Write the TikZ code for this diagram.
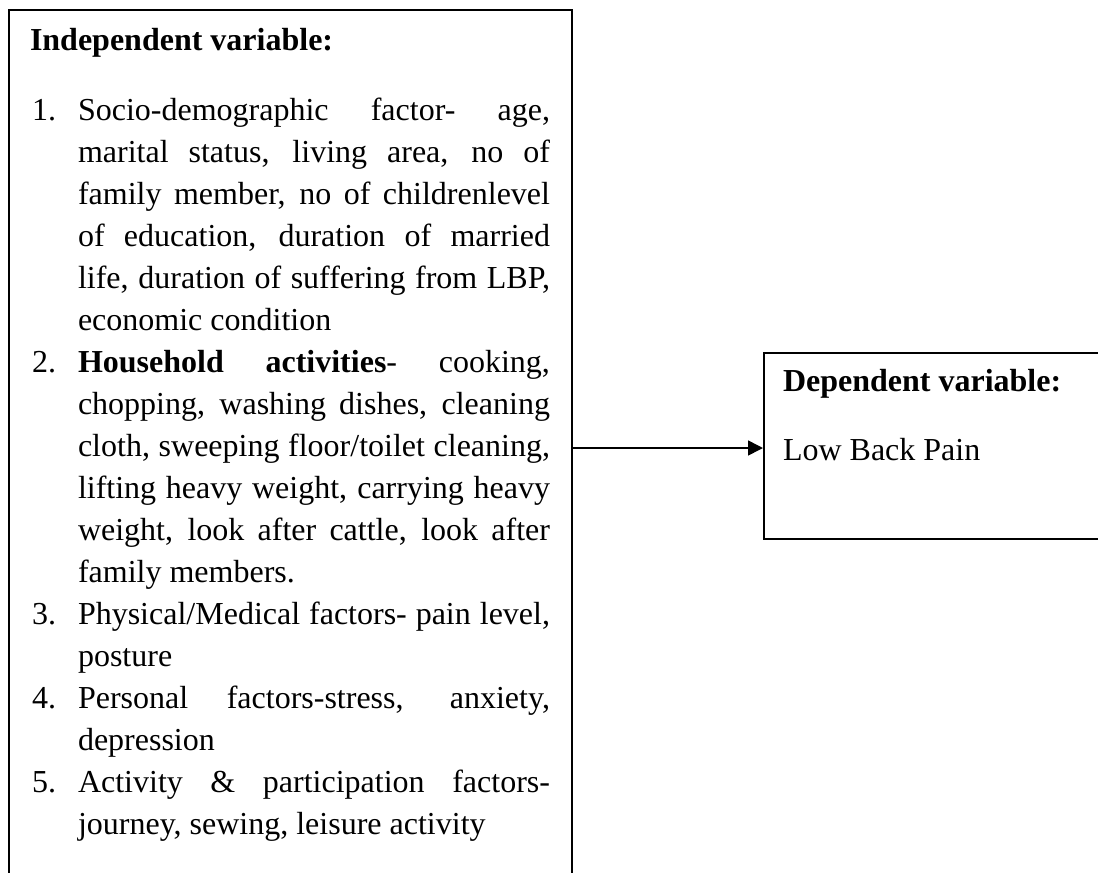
\documentclass[tikz,border=0pt]{standalone}
\usepackage{fontspec}
\setmainfont{Liberation Serif}
\usetikzlibrary{arrows.meta}
\tikzset{
  boxline/.style={line width=1.5pt, draw=black},
  txt/.style={anchor=base west, inner sep=0pt, outer sep=0pt, font=\fontsize{32}{42}\selectfont},
  conn/.style={line width=1.5pt, -{Triangle[length=15pt,width=15pt]}}
}
\newcommand{\jl}[1]{\makebox[472pt][s]{#1}}
\begin{document}
\begin{tikzpicture}[x=1pt,y=-1pt]
\useasboundingbox (0,0) rectangle (1098,873);
% left (independent) box, open at the bottom
\draw[boxline] (9,880) -- (9,10) -- (572,10) -- (572,880);
\coordinate (lbR) at (572,448);
\node[txt] (title) at (30,50) {\bfseries Independent variable:};
% item numbers
\node[txt] (n1) at (32,120) {1.};
\node[txt] (n2) at (32,372) {2.};
\node[txt] (n3) at (32,624) {3.};
\node[txt] (n4) at (32,708) {4.};
\node[txt] (n5) at (32,792) {5.};
% item 1
\node[txt] (l1) at (78,120) {\jl{Socio-demographic factor- age,}};
\node[txt] (l2) at (78,162) {\jl{marital status, living area, no of}};
\node[txt] (l3) at (78,204) {\jl{family member, no of childrenlevel}};
\node[txt] (l4) at (78,246) {\jl{of education, duration of married}};
\node[txt] (l5) at (78,288) {\jl{life, duration of suffering from LBP,}};
\node[txt] (l6) at (78,330) {economic condition};
% item 2
\node[txt] (l7) at (78,372) {\jl{\textbf{Household} \textbf{activities}- cooking,}};
\node[txt] (l8) at (78,414) {\jl{chopping, washing dishes, cleaning}};
\node[txt] (l9) at (78,456) {\jl{cloth, sweeping floor/toilet cleaning,}};
\node[txt] (l10) at (78,498) {\jl{lifting heavy weight, carrying heavy}};
\node[txt] (l11) at (78,540) {\jl{weight, look after cattle, look after}};
\node[txt] (l12) at (78,582) {family members.};
% item 3
\node[txt] (l13) at (78,624) {\jl{Physical/Medical factors- pain level,}};
\node[txt] (l14) at (78,666) {posture};
% item 4
\node[txt] (l15) at (78,708) {\jl{Personal factors-stress, anxiety,}};
\node[txt] (l16) at (78,750) {depression};
% item 5
\node[txt] (l17) at (78,792) {\jl{Activity \& participation factors-}};
\node[txt] (l18) at (78,834) {journey, sewing, leisure activity};
% right (dependent) box, its right side runs past the picture edge
\node[boxline, draw, rectangle, minimum width=345pt, minimum height=186pt, inner sep=0pt, anchor=north west] (dep) at (763,352) {};
\node[txt] (dtitle) at (783,391) {\bfseries Dependent variable:};
\node[txt] (dtext) at (783,460) {Low Back Pain};
% connector
\draw[conn] (lbR) -- (lbR -| dep.west);
\end{tikzpicture}
\end{document}
